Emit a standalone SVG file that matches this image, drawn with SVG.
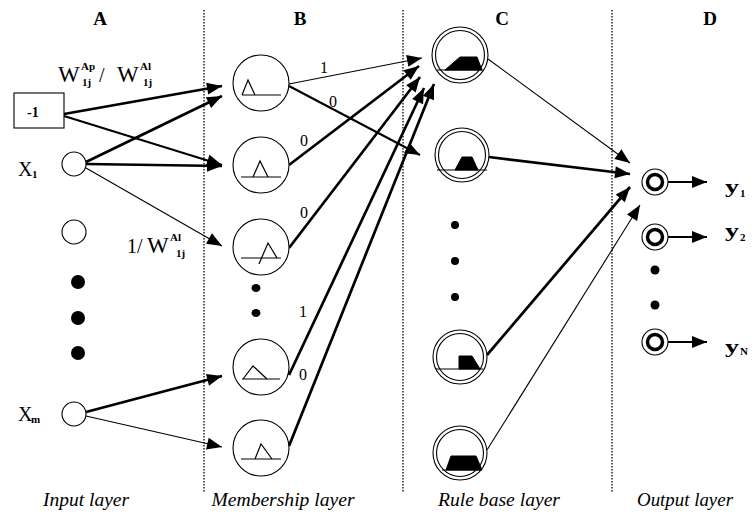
<svg xmlns="http://www.w3.org/2000/svg" width="756" height="522" viewBox="0 0 756 522">
<style>
  .bg{fill:#fff}
  .sep{stroke:#000;stroke-width:1.3;stroke-dasharray:1.5 1.5;fill:none}
  .node{fill:#fff;stroke:#000;stroke-width:1.1}
  .dot{fill:#000}
  .mf{fill:none;stroke:#000;stroke-width:1.2}
  .trap{fill:#000;stroke:#000;stroke-width:1}
  .out{fill:none;stroke:#000;stroke-width:3.5}
  .c{stroke:#000;fill:none;marker-end:url(#ah)}
  .thin{stroke-width:1.1}
  .med{stroke-width:2}
  .thick{stroke-width:2.7}
  text{font-family:"Liberation Serif","Times New Roman",serif;fill:#000}
  .hdr{font-size:19px;font-weight:bold;text-anchor:middle}
  .lbl{font-size:20px}
  .big{font-size:23px}
  .sub{font-size:11px;font-weight:bold}
  .ss{font-size:11px;font-weight:bold}
  .wl{font-size:16px;text-anchor:middle}
  .layer{font-size:18px;font-style:italic;text-anchor:middle}
  .y{font-size:18px;font-weight:bold}
  .yi{font-size:11px;font-weight:bold}
</style>
<defs>
  <marker id="ah" markerUnits="userSpaceOnUse" markerWidth="15" markerHeight="12" refX="15" refY="6" orient="auto" overflow="visible">
    <path d="M0,0 L15,6 L0,12 z" fill="#000"/>
  </marker>
</defs>
<rect class="bg" x="0" y="0" width="756" height="522"/>

<g id="separators">
  <line class="sep" x1="204" y1="10" x2="204" y2="492"/>
  <line class="sep" x1="403" y1="10" x2="403" y2="492"/>
  <line class="sep" x1="612" y1="10" x2="612" y2="492"/>
</g>

<g id="headers">
  <text class="hdr" x="100" y="25">A</text>
  <text class="hdr" x="300" y="25">B</text>
  <text class="hdr" x="502" y="25">C</text>
  <text class="hdr" x="710" y="25">D</text>
</g>

<g id="connectors">
  <!-- A to B -->
  <line class="c thick" x1="64" y1="114" x2="222" y2="86"/>
  <line class="c thick" x1="86" y1="162" x2="222" y2="96"/>
  <line class="c med" x1="64" y1="116" x2="222" y2="165"/>
  <line class="c thick" x1="86" y1="164" x2="222" y2="166"/>
  <line class="c thin" x1="86" y1="168" x2="222" y2="246"/>
  <line class="c thick" x1="86" y1="412" x2="222" y2="376"/>
  <line class="c thin" x1="86" y1="416" x2="222" y2="447"/>
  <!-- B to C -->
  <line class="c thin" x1="289" y1="84" x2="422" y2="58"/>
  <line class="c med" x1="289" y1="86" x2="420" y2="155"/>
  <line class="c thick" x1="289" y1="165" x2="419" y2="66"/>
  <line class="c thick" x1="289" y1="248" x2="420" y2="77"/>
  <line class="c thick" x1="289" y1="375" x2="424" y2="88"/>
  <line class="c thick" x1="289" y1="446" x2="434" y2="84"/>
  <!-- C to D -->
  <line class="c thin" x1="488" y1="59" x2="630" y2="163"/>
  <line class="c thick" x1="489" y1="157" x2="630" y2="174"/>
  <line class="c thick" x1="487" y1="355" x2="630" y2="187"/>
  <line class="c thin" x1="487" y1="450" x2="640" y2="205"/>
  <!-- outputs -->
  <line class="c med" x1="668" y1="182" x2="707" y2="182"/>
  <line class="c med" x1="668" y1="237" x2="707" y2="237"/>
  <line class="c med" x1="668" y1="342" x2="707" y2="342"/>
</g>

<g id="weight-labels">
  <text class="big" x="58" y="82">W</text>
  <text class="ss" x="81" y="70">Ap</text>
  <text class="ss" x="82" y="86">1j</text>
  <text class="lbl" x="99" y="82">/</text>
  <text class="big" x="117" y="82">W</text>
  <text class="ss" x="140" y="70">Al</text>
  <text class="ss" x="143" y="86">1j</text>

  <text class="lbl" x="127" y="253">1/</text>
  <text class="big" x="147" y="253">W</text>
  <text class="ss" x="170" y="241">Al</text>
  <text class="ss" x="176" y="257">1j</text>

  <text class="wl" x="324" y="73">1</text>
  <text class="wl" x="333" y="107">0</text>
  <text class="wl" x="304" y="146">0</text>
  <text class="wl" x="304" y="218">0</text>
  <text class="wl" x="303" y="317">1</text>
  <text class="wl" x="303" y="380">0</text>
</g>

<!-- Layer A -->
<g id="bias">
  <rect class="node" x="14" y="93" width="50" height="35"/>
  <text x="27" y="117" font-size="14" font-weight="bold">-1</text>
</g>
<g id="x1">
  <circle class="node" cx="74" cy="164" r="12"/>
  <text class="lbl" x="18" y="176">X</text>
  <text class="sub" x="32" y="178">1</text>
</g>
<g id="x2">
  <circle class="node" cx="74" cy="232" r="12"/>
</g>
<g id="a-dots">
  <circle class="dot" cx="78" cy="282" r="7"/>
  <circle class="dot" cx="78" cy="318" r="7"/>
  <circle class="dot" cx="78" cy="353" r="7"/>
</g>
<g id="xm">
  <circle class="node" cx="74" cy="414" r="12"/>
  <text class="lbl" x="18" y="421">X</text>
  <text class="sub" x="31" y="423">m</text>
</g>

<!-- Layer B -->
<g id="b1">
  <circle class="node" cx="261" cy="83" r="28"/>
  <line class="mf" x1="242" y1="95" x2="281" y2="95"/>
  <polyline class="mf" points="242,95 248,80 255,95"/>
</g>
<g id="b2">
  <circle class="node" cx="261" cy="165" r="28"/>
  <line class="mf" x1="241" y1="177" x2="281" y2="177"/>
  <polyline class="mf" points="253,177 260,161 268,177"/>
</g>
<g id="b3">
  <circle class="node" cx="261" cy="247" r="28"/>
  <line class="mf" x1="241" y1="258" x2="281" y2="258"/>
  <polyline class="mf" points="259,264 268,243 277,258"/>
</g>
<g id="b-dots">
  <ellipse class="dot" cx="256" cy="288" rx="4.5" ry="4"/>
  <ellipse class="dot" cx="256" cy="313" rx="4.5" ry="4"/>
</g>
<g id="b4">
  <circle class="node" cx="261" cy="367" r="28"/>
  <line class="mf" x1="242" y1="379" x2="280" y2="379"/>
  <polyline class="mf" points="243,379 253,366 267,379"/>
</g>
<g id="b5">
  <circle class="node" cx="261" cy="448" r="28"/>
  <line class="mf" x1="241" y1="459" x2="281" y2="459"/>
  <polyline class="mf" points="255,459 261,444 272,459"/>
</g>

<!-- Layer C -->
<g id="c1">
  <circle class="node" cx="460" cy="55" r="28"/>
  <circle class="node" cx="460" cy="55" r="24.5"/>
  <line class="mf" x1="437" y1="70" x2="483" y2="70"/>
  <polygon class="trap" points="445,70 460,57 477,57 482,70"/>
</g>
<g id="c2">
  <circle class="node" cx="462" cy="155" r="27"/>
  <circle class="node" cx="462" cy="155" r="23.5"/>
  <line class="mf" x1="437" y1="170" x2="487" y2="170"/>
  <polygon class="trap" points="455,170 462,157 472,157 478,170"/>
</g>
<g id="c-dots">
  <circle class="dot" cx="455" cy="225" r="4"/>
  <circle class="dot" cx="455" cy="261" r="4"/>
  <circle class="dot" cx="455" cy="297" r="4"/>
</g>
<g id="c3">
  <circle class="node" cx="460" cy="357" r="27"/>
  <circle class="node" cx="460" cy="357" r="23.5"/>
  <line class="mf" x1="436" y1="369" x2="483" y2="369"/>
  <polygon class="trap" points="459,369 459,356 472,356 480,369"/>
</g>
<g id="c4">
  <circle class="node" cx="460" cy="453" r="27"/>
  <circle class="node" cx="460" cy="453" r="23.5"/>
  <line class="mf" x1="442" y1="470" x2="482" y2="470"/>
  <polygon class="trap" points="446,470 451,456 476,456 482,470"/>
</g>

<!-- Layer D -->
<g id="d1">
  <circle class="node" cx="655" cy="182" r="13"/>
  <circle class="out" cx="655" cy="182" r="7.5"/>
  <text class="y" x="725" y="193" textLength="14" lengthAdjust="spacingAndGlyphs">y</text>
  <text class="yi" x="740" y="197">1</text>
</g>
<g id="d2">
  <circle class="node" cx="655" cy="237" r="13"/>
  <circle class="out" cx="655" cy="237" r="7.5"/>
  <text class="y" x="725" y="237" textLength="14" lengthAdjust="spacingAndGlyphs">y</text>
  <text class="yi" x="740" y="241">2</text>
</g>
<g id="d-dots">
  <circle class="dot" cx="655" cy="270" r="4.5"/>
  <circle class="dot" cx="655" cy="305" r="4.5"/>
</g>
<g id="dn">
  <circle class="node" cx="655" cy="342" r="13"/>
  <circle class="out" cx="655" cy="342" r="7.5"/>
  <text class="y" x="725" y="353" textLength="14" lengthAdjust="spacingAndGlyphs">y</text>
  <text class="yi" x="740" y="355">N</text>
</g>

<g id="layer-labels">
  <text class="layer" x="86" y="506" textLength="86" lengthAdjust="spacingAndGlyphs">Input layer</text>
  <text class="layer" x="283" y="506" textLength="143" lengthAdjust="spacingAndGlyphs">Membership layer</text>
  <text class="layer" x="499" y="506" textLength="122" lengthAdjust="spacingAndGlyphs">Rule base layer</text>
  <text class="layer" x="685" y="506" textLength="96" lengthAdjust="spacingAndGlyphs">Output layer</text>
</g>
</svg>
